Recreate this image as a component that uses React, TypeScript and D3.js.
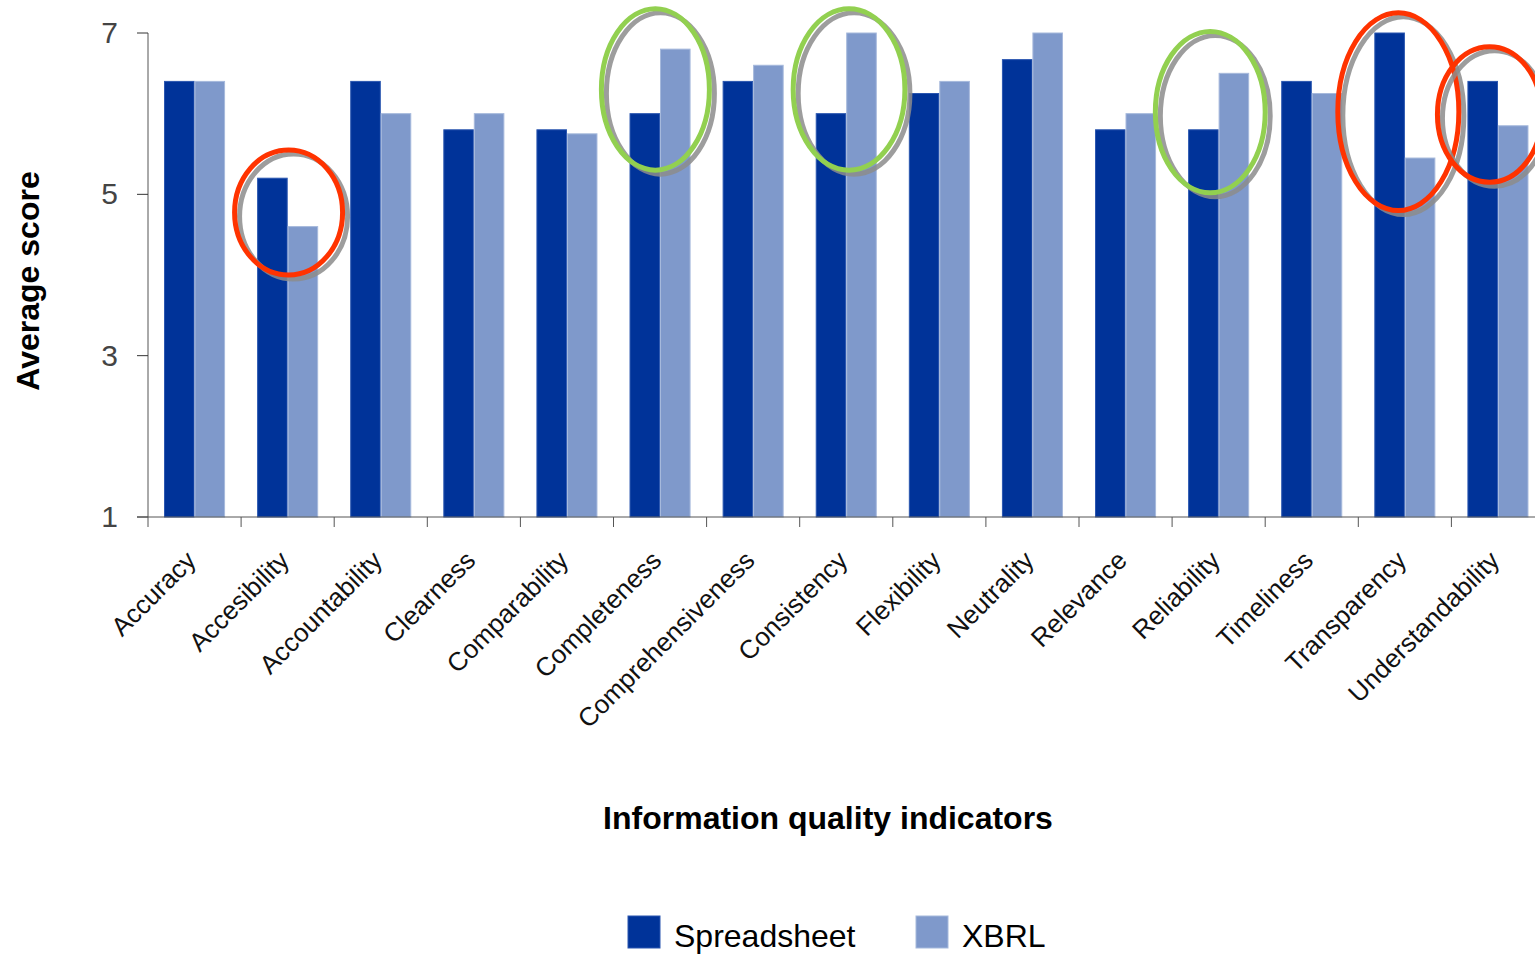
import { useEffect, useRef } from "react"
import * as d3 from "d3"

const categories = [
  "Accuracy",
  "Accesibility",
  "Accountability",
  "Clearness",
  "Comparability",
  "Completeness",
  "Comprehensiveness",
  "Consistency",
  "Flexibility",
  "Neutrality",
  "Relevance",
  "Reliability",
  "Timeliness",
  "Transparency",
  "Understandability",
]

const spreadsheet = [6.4, 5.2, 6.4, 5.8, 5.8, 6.0, 6.4, 6.0, 6.25, 6.67, 5.8, 5.8, 6.4, 7.0, 6.4]
const xbrl = [6.4, 4.6, 6.0, 6.0, 5.75, 6.8, 6.6, 7.0, 6.4, 7.0, 6.0, 6.5, 6.25, 5.45, 5.85]

const seriesNames = ["Spreadsheet", "XBRL"]
const seriesColors = ["#003399", "#7f99cb"]
const seriesEdges = ["#2a56b0", "#a6b9dc"]

const yTicks = [1, 3, 5, 7]

// highlighted groups: category, ring colour, vertical span in score units, width as share of a band step
const highlights = [
  { category: "Accesibility", color: "#ff3300", lo: 4.0, hi: 5.55, dx: 0.01, w: 0.58 },
  { category: "Completeness", color: "#92d050", lo: 5.3, hi: 7.3, dx: -0.05, w: 0.58 },
  { category: "Consistency", color: "#92d050", lo: 5.3, hi: 7.3, dx: 0.03, w: 0.6 },
  { category: "Reliability", color: "#92d050", lo: 5.02, hi: 7.02, dx: -0.09, w: 0.59 },
  { category: "Transparency", color: "#ff3300", lo: 4.8, hi: 7.25, dx: -0.07, w: 0.65 },
  { category: "Understandability", color: "#ff3300", lo: 5.15, hi: 6.83, dx: -0.09, w: 0.56 },
]

export default function App() {
  const svgRef = useRef<SVGSVGElement>(null)

  useEffect(() => {
    if (!svgRef.current) return
    document.body.style.margin = "0"

    const width = 1535
    const height = 955
    const left = 148
    const step = 93.1
    const bottom = 517
    const top = 33

    const svg = d3.select(svgRef.current)
    svg.selectAll("*").remove()

    const x = d3
      .scaleBand()
      .domain(categories)
      .range([left, left + step * categories.length])
      .paddingInner(0.355)
      .paddingOuter(0.1775)

    const xs = d3.scaleBand().domain(seriesNames).range([0, x.bandwidth()]).paddingInner(0.03)

    const y = d3.scaleLinear().domain([1, 7]).range([bottom, top])

    const font = "Liberation Sans, Arial, Helvetica, sans-serif"

    // bars
    const rows = categories.map((c, i) => ({ c, vals: [spreadsheet[i], xbrl[i]] }))
    const g = svg.append("g")
    rows.forEach((r) => {
      r.vals.forEach((v, si) => {
        g.append("rect")
          .attr("x", (x(r.c) || 0) + (xs(seriesNames[si]) || 0))
          .attr("y", y(v))
          .attr("width", xs.bandwidth())
          .attr("height", y(1) - y(v))
          .attr("fill", seriesColors[si])
          .attr("stroke", seriesEdges[si])
          .attr("stroke-width", 1)
      })
    })

    // y axis
    svg.append("line")
      .attr("x1", left)
      .attr("x2", left)
      .attr("y1", y(7))
      .attr("y2", y(1))
      .attr("stroke", "#555")
      .attr("stroke-width", 1)
    yTicks.forEach((t) => {
      svg.append("line")
        .attr("x1", left - 11)
        .attr("x2", left)
        .attr("y1", y(t))
        .attr("y2", y(t))
        .attr("stroke", "#333")
      svg.append("text")
        .attr("x", 118)
        .attr("y", y(t) + 10)
        .attr("text-anchor", "end")
        .attr("font-family", "Liberation Sans Narrow, Arial Narrow, sans-serif")
        .attr("font-size", 30)
        .attr("fill", "#444")
        .text(t)
    })

    // x axis
    svg.append("line")
      .attr("x1", left - 11)
      .attr("x2", width)
      .attr("y1", y(1))
      .attr("y2", y(1))
      .attr("stroke", "#555")
    categories.forEach((c, i) => {
      const bx = left + i * x.step()
      svg.append("line")
        .attr("x1", bx)
        .attr("x2", bx)
        .attr("y1", y(1))
        .attr("y2", y(1) + 10)
        .attr("stroke", "#555")
      const cx = (x(c) || 0) + x.bandwidth() / 2
      svg.append("text")
        .attr("transform", `translate(${cx + 3},${562}) rotate(-45)`)
        .attr("text-anchor", "end")
        .attr("font-family", font)
        .attr("font-size", 26)
        .attr("fill", "#111")
        .text(c)
    })

    // highlight rings with grey shadow
    highlights.forEach((h) => {
      const cx = (x(h.category) || 0) + x.bandwidth() / 2 + h.dx * x.step()
      const cy = (y(h.lo) + y(h.hi)) / 2
      const ry = (y(h.lo) - y(h.hi)) / 2
      const rx = h.w * x.step()
      svg.append("ellipse")
        .attr("cx", cx + 5)
        .attr("cy", cy + 4)
        .attr("rx", rx)
        .attr("ry", ry)
        .attr("fill", "none")
        .attr("stroke", "#8c8c8c")
        .attr("stroke-opacity", 0.85)
        .attr("stroke-width", 5)
      svg.append("ellipse")
        .attr("cx", cx)
        .attr("cy", cy)
        .attr("rx", rx)
        .attr("ry", ry)
        .attr("fill", "none")
        .attr("stroke", h.color)
        .attr("stroke-width", 5)
    })

    // axis titles
    svg.append("text")
      .attr("transform", `translate(39,${281}) rotate(-90)`)
      .attr("text-anchor", "middle")
      .attr("font-family", font)
      .attr("font-weight", "bold")
      .attr("font-size", 32)
      .attr("fill", "#000")
      .text("Average score")

    svg.append("text")
      .attr("x", 828)
      .attr("y", 829)
      .attr("text-anchor", "middle")
      .attr("font-family", font)
      .attr("font-weight", "bold")
      .attr("font-size", 32)
      .attr("fill", "#000")
      .text("Information quality indicators")

    // legend
    const legendX = [628, 916]
    seriesNames.forEach((s, i) => {
      svg.append("rect")
        .attr("x", legendX[i])
        .attr("y", 916)
        .attr("width", 32)
        .attr("height", 32)
        .attr("fill", seriesColors[i])
        .attr("stroke", seriesEdges[i])
      svg.append("text")
        .attr("x", legendX[i] + 46)
        .attr("y", 947)
        .attr("font-family", font)
        .attr("font-size", 32)
        .attr("fill", "#000")
        .text(s)
    })

    svg.attr("width", width).attr("height", height)
  }, [])

  return <svg ref={svgRef} width={1535} height={955} style={{ display: "block", background: "#fff" }} />
}
